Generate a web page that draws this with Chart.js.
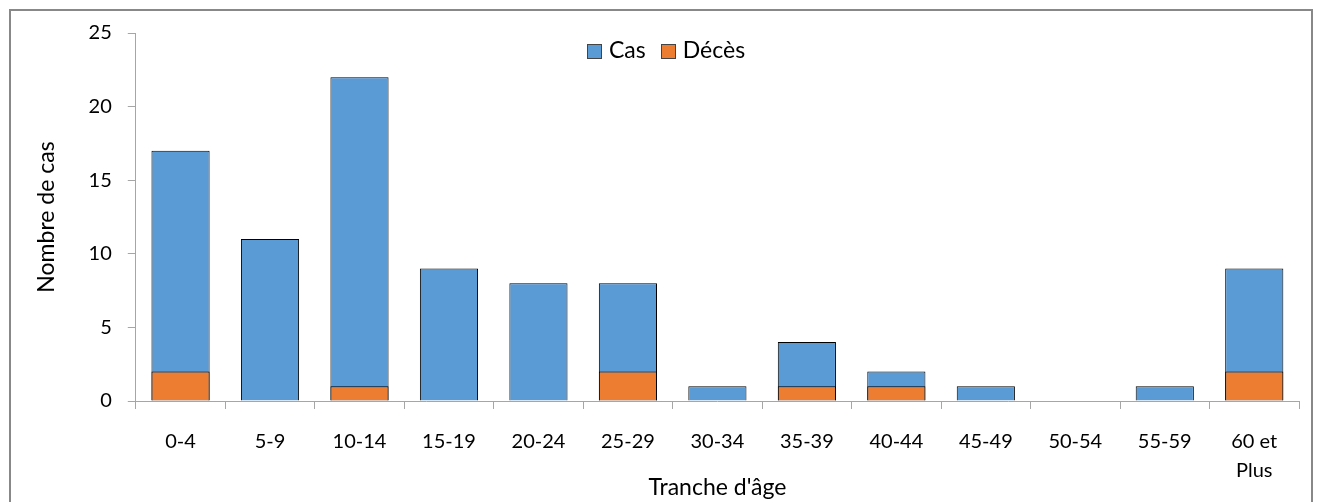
<!DOCTYPE html>
<html>
<head>
<meta charset="utf-8">
<script src="https://cdn.jsdelivr.net/npm/chart.js@4/dist/chart.umd.min.js"></script>
<style>
  html, body { margin: 0; padding: 0; background: #fff; overflow: hidden; }
  #wrap { position: relative; width: 1319px; height: 502px; font-family: Lato, "Open Sans", sans-serif; }
  #frame { position: absolute; left: 9px; top: 9px; width: 1304px; height: 520px; border: 2px solid #888; box-sizing: border-box; }
  #cv { position: absolute; left: 0; top: 0; }
  #legende { position: absolute; left: 587px; top: 35px; font-size: 23px; line-height: 28px; color: #000; white-space: nowrap; }
  #legende span.item { margin-right: 15px; }
  #legende span.box { display: inline-block; width: 13px; height: 13px; border: 1px solid #444; margin-right: 7px; vertical-align: -1px; }
</style>
</head>
<body>
<div id="wrap">
  <div id="frame"></div>
  <canvas id="cv" width="1319" height="502"></canvas>
  <div id="legende"></div>
</div>
<script>
// Tranches d'âge et valeurs
var tranches = ['0-4', '5-9', '10-14', '15-19', '20-24', '25-29', '30-34', '35-39', '40-44', '45-49', '50-54', '55-59', ['60 et', 'Plus']];
var cas = [17, 11, 22, 9, 8, 8, 1, 4, 2, 1, 0, 1, 9];
var deces = [2, 0, 1, 0, 0, 2, 0, 1, 1, 0, 0, 0, 2];
var yTicks = [0, 5, 10, 15, 20, 25];

Chart.defaults.font.family = 'Lato, "Open Sans", sans-serif';
Chart.defaults.font.size = 20;
Chart.defaults.color = '#000';

var ctx = document.getElementById('cv').getContext('2d');

var chart = new Chart(ctx, {
  type: 'bar',
  data: {
    labels: tranches,
    datasets: [
      {
        label: 'Cas',
        data: cas,
        backgroundColor: '#5b9bd5',
        borderColor: '#000',
        borderWidth: 1,
        borderSkipped: 'bottom',
        grouped: false,
        categoryPercentage: 0.65,
        barPercentage: 1,
        order: 1
      },
      {
        label: 'Décès',
        data: deces,
        backgroundColor: '#ed7d31',
        borderColor: '#000',
        borderWidth: 1,
        borderSkipped: 'bottom',
        grouped: false,
        categoryPercentage: 0.65,
        barPercentage: 1,
        order: 0
      }
    ]
  },
  options: {
    responsive: false,
    animation: false,
    layout: { padding: { left: 33, right: 20, top: 33, bottom: 1 } },
    plugins: {
      tooltip: { enabled: false },
      legend: { display: false }
    },
    scales: {
      x: {
        grid: { display: true, drawOnChartArea: false, drawTicks: true, tickLength: 8, color: '#a6a6a6', offset: true },
        border: { color: '#a6a6a6', width: 1 },
        ticks: { padding: 18, maxRotation: 0, autoSkip: false, font: { size: 20, lineHeight: 1.45 } },
        title: { display: true, text: "Tranche d'âge", font: { size: 23 }, padding: { top: 0, bottom: 0 } },
        afterFit: function (axis) { axis.height = 100; }
      },
      y: {
        min: 0,
        max: 25,
        afterBuildTicks: function (axis) {
          axis.ticks = yTicks.map(function (v) { return { value: v }; });
        },
        grid: { display: true, drawOnChartArea: false, drawTicks: true, tickLength: 8, color: '#a6a6a6' },
        border: { color: '#a6a6a6', width: 1 },
        ticks: { padding: 16 },
        title: { display: true, text: 'Nombre de cas', font: { size: 23 }, padding: { top: 0, bottom: 12 } }
      }
    }
  }
});

// Légende HTML placée comme dans l'original
var legende = document.getElementById('legende');
chart.data.datasets.forEach(function (ds) {
  var item = document.createElement('span');
  item.className = 'item';
  var box = document.createElement('span');
  box.className = 'box';
  box.style.background = ds.backgroundColor;
  item.appendChild(box);
  item.appendChild(document.createTextNode(ds.label));
  legende.appendChild(item);
});
</script>
</body>
</html>
